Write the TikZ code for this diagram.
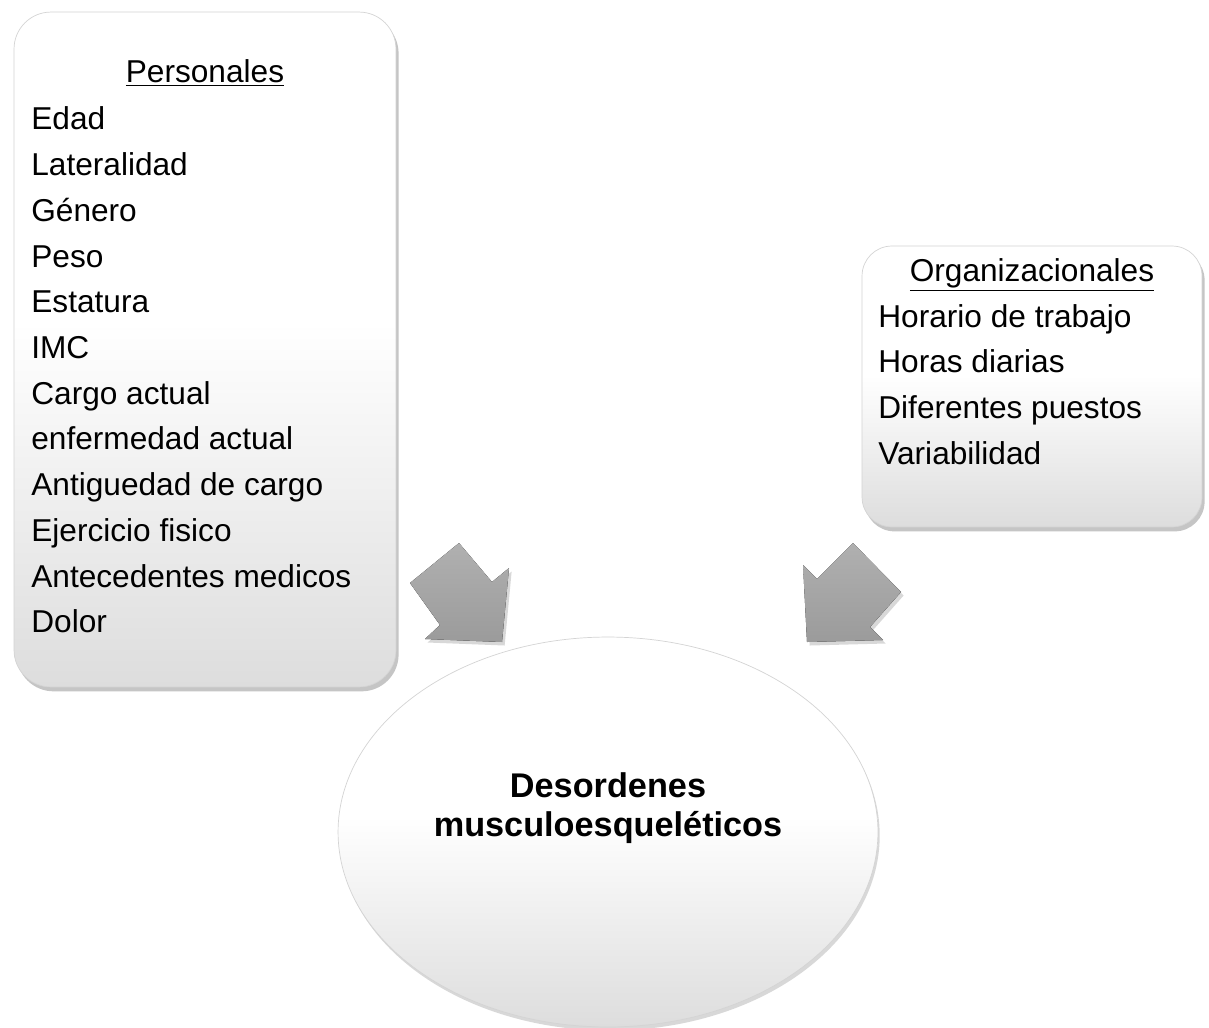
\documentclass[tikz,border=0pt]{standalone}
\usepackage{fontspec}
\setmainfont{Liberation Sans}
\usepackage{tikz}
\usetikzlibrary{shapes.geometric}
\usetikzlibrary{shadows}
\usetikzlibrary{positioning}
\definecolor{edgegray}{RGB}{212, 212, 212}
\definecolor{fadegray}{RGB}{221, 221, 221}
\definecolor{arrowtop}{RGB}{176, 176, 176}
\definecolor{arrowbot}{RGB}{155, 155, 155}
\pgfdeclareverticalshading{fadeshade}{100bp}{color(0bp)=(fadegray); color(25bp)=(fadegray); color(52bp)=(white); color(100bp)=(white)}

\tikzset{
    factorbox/.style={draw=edgegray, thin, shade, shading=fadeshade,
                      drop shadow={shadow xshift=1.5pt, shadow yshift=-2.5pt, opacity=0.45}},
    itemtext/.style={anchor=base west, inner sep=0pt, font=\fontsize{18}{22}\selectfont},
    headtext/.style={anchor=base, inner sep=0pt, font=\fontsize{18}{22}\selectfont},
    blockarrow/.style={top color=arrowtop, bottom color=arrowbot,
                       drop shadow={shadow xshift=1.5pt, shadow yshift=-2pt, opacity=0.3}}
}

\begin{document}
\begin{tikzpicture}[x=0.02cm, y=-0.02cm]
            \useasboundingbox (0,0) rectangle (1209,1027);
            \fill[white] (0,0) rectangle (1209,1027);

            \node (personales) [factorbox, rounded corners=21pt, minimum width=7.64cm, minimum height=13.5cm] at (205,349.5) {};
            \node (organizacionales) [factorbox, rounded corners=17pt, minimum width=6.8cm, minimum height=5.62cm] at (1032,386.5) {};

            \node (dme) [ellipse, draw=edgegray, shade, shading=fadeshade,
                         minimum width=10.8cm, minimum height=7.8cm,
                         drop shadow={shadow xshift=1pt, shadow yshift=-2pt, opacity=0.3}] at (608,832) {};
            \node (dmetext) [align=center, font=\bfseries\fontsize{19.5}{21.8}\selectfont] at (608,808)
                 {Desordenes\\musculoesqueléticos};

            \node (perstitle) [headtext] at (205,83) {\underline{Personales}};
            \foreach \item [count=\i from 0] in {Edad, Lateralidad, Género, Peso, Estatura, IMC, Cargo actual,
                    enfermedad actual, Antiguedad de cargo, Ejercicio fisico, Antecedentes medicos, Dolor}
                \node (pers\i) [itemtext] at (31,{130+45.7*\i}) {\item};

            \node (orgtitle) [headtext] at (1032,281) {\underline{Organizacionales}};
            \foreach \item [count=\i from 0] in {Horario de trabajo, Horas diarias, Diferentes puestos, Variabilidad}
                \node (org\i) [itemtext] at (878,{327+45.7*\i}) {\item};

            \fill[blockarrow] (410,583) -- (459,543) -- (492,582) -- (509,568) -- (502,642) -- (425,639) -- (440,625) -- cycle;
            \fill[blockarrow] (803,565) -- (817,579) -- (853,543) -- (901,592) -- (870,627) -- (883,640) -- (807,642) -- cycle;
        \end{tikzpicture}
\end{document}
